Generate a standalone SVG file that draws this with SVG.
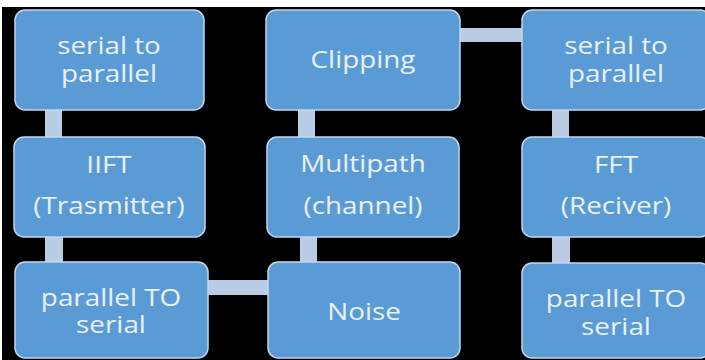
<svg xmlns="http://www.w3.org/2000/svg" width="705" height="360" viewBox="0 0 705 360">
  <style>
    .box { fill: #5b9bd5; stroke: #c2d6ee; stroke-width: 1.5; }
    .con { fill: #b8cce4; }
    .lbl { font-family: "Open Sans", "Liberation Sans", sans-serif; font-size: 24px; fill: #e8f1fa; text-anchor: middle; }
  </style>
  <rect x="0" y="0" width="705" height="360" fill="#ffffff"/>
  <rect x="2" y="7" width="703" height="353" fill="#000000"/>
  <g id="connectors">
    <rect class="con" x="45" y="109" width="17" height="30"/>
    <rect class="con" x="45" y="235" width="18" height="29"/>
    <rect class="con" x="298" y="109" width="17" height="30"/>
    <rect class="con" x="300" y="235" width="17" height="29"/>
    <rect class="con" x="552" y="109" width="17" height="30"/>
    <rect class="con" x="552" y="235" width="18" height="29"/>
    <rect class="con" x="459" y="28" width="65" height="14"/>
    <rect class="con" x="207" y="280" width="62" height="15"/>
  </g>
  <g id="n-s2p-tx">
    <rect class="box" x="15" y="10" width="189" height="100" rx="10"/>
    <text class="lbl" transform="translate(109,0) scale(1.16,1)"><tspan x="0" y="54">serial to</tspan><tspan x="0" y="82">parallel</tspan></text>
  </g>
  <g id="n-iifft">
    <rect class="box" x="14" y="137" width="191" height="100" rx="10"/>
    <text class="lbl" transform="translate(109,0) scale(1.16,1)"><tspan x="0" y="173">IIFT</tspan><tspan x="0" y="214">(Trasmitter)</tspan></text>
  </g>
  <g id="n-p2s-tx">
    <rect class="box" x="15" y="262" width="193" height="96" rx="10"/>
    <text class="lbl" transform="translate(111,0) scale(1.16,1)"><tspan x="0" y="306">parallel TO</tspan><tspan x="0" y="333">serial</tspan></text>
  </g>
  <g id="n-clipping">
    <rect class="box" x="266" y="10" width="194" height="100" rx="10"/>
    <text class="lbl" transform="translate(363,0) scale(1.16,1)"><tspan x="0" y="68">Clipping</tspan></text>
  </g>
  <g id="n-multipath">
    <rect class="box" x="267" y="137" width="192" height="100" rx="10"/>
    <text class="lbl" transform="translate(363,0) scale(1.16,1)"><tspan x="0" y="172">Multipath</tspan><tspan x="0" y="214">(channel)</tspan></text>
  </g>
  <g id="n-noise">
    <rect class="box" x="268" y="262" width="192" height="96" rx="10"/>
    <text class="lbl" transform="translate(364,0) scale(1.16,1)"><tspan x="0" y="320">Noise</tspan></text>
  </g>
  <g id="n-s2p-rx">
    <rect class="box" x="522" y="10" width="188" height="100" rx="10"/>
    <text class="lbl" transform="translate(616,0) scale(1.16,1)"><tspan x="0" y="54">serial to</tspan><tspan x="0" y="82">parallel</tspan></text>
  </g>
  <g id="n-fft">
    <rect class="box" x="522" y="137" width="188" height="100" rx="10"/>
    <text class="lbl" transform="translate(616,0) scale(1.16,1)"><tspan x="0" y="173">FFT</tspan><tspan x="0" y="214">(Reciver)</tspan></text>
  </g>
  <g id="n-p2s-rx">
    <rect class="box" x="522" y="263" width="188" height="95" rx="10"/>
    <text class="lbl" transform="translate(616,0) scale(1.16,1)"><tspan x="0" y="307">parallel TO</tspan><tspan x="0" y="335">serial</tspan></text>
  </g>
</svg>
